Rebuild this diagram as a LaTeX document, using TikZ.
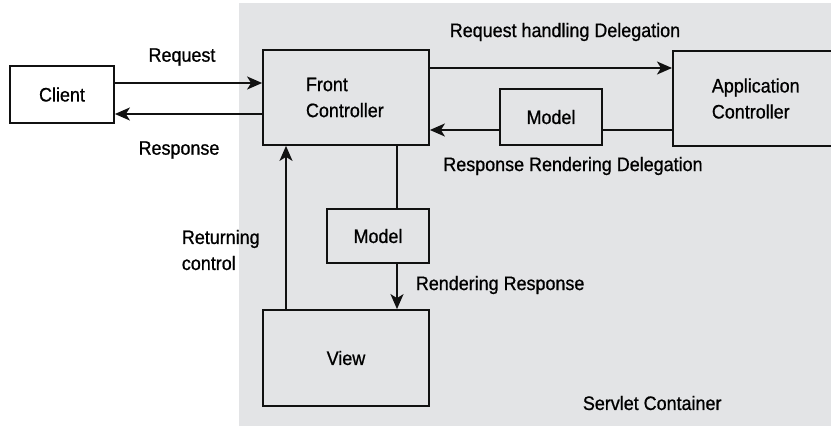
\documentclass[tikz,border=0pt]{standalone}
\usepackage{fontspec}
\setmainfont{Liberation Sans}[FakeStretch=0.92, FakeBold=0.8]
\usetikzlibrary{arrows.meta}
\definecolor{scGrey}{HTML}{E3E4E6}
\definecolor{scLine}{HTML}{111111}

\begin{document}
\begin{tikzpicture}[x=1pt, y=-1pt, line width=1.8pt, draw=scLine,
    >={Stealth[length=15pt, width=13pt, inset=4pt]},
    font=\fontsize{19.5}{26}\selectfont,
    box/.style={draw=scLine, line width=1.8pt, inner sep=0pt, align=center},
    lbl/.style={inner sep=0pt, align=left}]
    \useasboundingbox (0,0) rectangle (831,426);
    \fill[scGrey] (239,3) rectangle (840,430);

    \node[box, minimum width=104pt, minimum height=57pt] (client) at (62,94.5) {Client};
    \node[box, align=left, text width=80pt, inner xsep=43pt, minimum height=95pt] (front) at (346,97.5) {Front\\Controller};
    \node[box, align=left, text width=90pt, inner xsep=39pt, minimum height=95pt, anchor=west] (app) at (672,98.5) {Application\\Controller};
    \node[box, minimum width=102pt, minimum height=56pt] (modelA) at (551,117) {Model};
    \node[box, minimum width=102pt, minimum height=54pt] (modelB) at (378,236) {Model};
    \node[box, minimum width=166pt, minimum height=96pt] (view) at (346,358) {View};

    \draw[->] (client.east |- 0,83) -- (front.west |- 0,83);
    \draw[->] (front.west |- 0,114) -- (client.east |- 0,114);
    \draw[->] (front.east |- 0,68) -- (app.west |- 0,68);
    \draw (app.west |- 0,130) -- (modelA.east |- 0,130);
    \draw[->] (modelA.west |- 0,130) -- (front.east |- 0,130);
    \draw (397,0 |- front.south) -- (397,0 |- modelB.north);
    \draw[->] (397,0 |- modelB.south) -- (397,0 |- view.north);
    \draw[->] (286,0 |- view.north) -- (286,0 |- front.south);

    \node[lbl] (lReq) at (182,57) {Request};
    \node[lbl] (lResp) at (179,150) {Response};
    \node[lbl] (lDeleg) at (565,32) {Request handling Delegation};
    \node[lbl] (lRender) at (573,166) {Response Rendering Delegation};
    \node[lbl, anchor=west] (lReturn) at (181,250) {Returning\\control};
    \node[lbl, anchor=west] (lRendResp) at (415,285) {Rendering Response};
    \node[lbl, anchor=west] (lServlet) at (582,403) {Servlet Container};
\end{tikzpicture}
\end{document}
